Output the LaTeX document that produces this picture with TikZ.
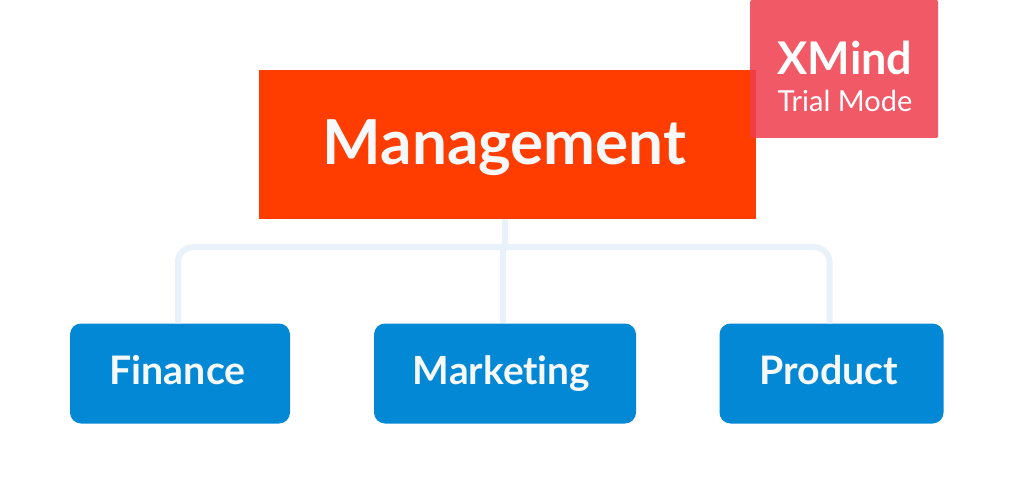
\documentclass[tikz,border=0pt]{standalone}
\usepackage{fontspec}
\usetikzlibrary{calc}
\setmainfont[Ligatures=NoCommon]{Lato}
\definecolor{mgmt}{HTML}{FF3D00}
\definecolor{sub}{HTML}{0288D4}
\definecolor{conn}{HTML}{E9F2FA}
\definecolor{wm}{HTML}{EF3D4C}
\definecolor{ink}{HTML}{F7F8FA}
\tikzset{
  x=1pt,y=-1pt,
  topic/.style={fill=sub,rounded corners=11pt,inner sep=0pt,minimum height=100pt},
  topictext/.style={anchor=base,inner sep=0pt,text=ink,font=\fontsize{39.3}{44}\selectfont\bfseries},
  link/.style={draw=conn,line width=6pt,rounded corners=15pt},
  straight/.style={draw=conn,line width=6pt},
  label/.style={anchor=base,inner sep=0pt,text=white}
}
\begin{document}
\begin{tikzpicture}
\useasboundingbox (0,0) rectangle (1009,489);
\fill[white] (0,0) rectangle (1009,489);
\node[fill=mgmt,inner sep=0pt,minimum width=497pt,minimum height=149pt] (m) at (507,144.5) {};
\node[topic,minimum width=220pt] (f) at (180,373.5) {};
\node[topic,minimum width=262pt] (k) at (505,373.5) {};
\node[topic,minimum width=224pt] (p) at (831.5,373.5) {};
\coordinate (fin) at ([xshift=-2pt]f.north);
\coordinate (mar) at ([xshift=-2pt]k.north);
\coordinate (pro) at ([xshift=-2pt]p.north);
\coordinate (top) at ([xshift=-2pt]m.south);
\coordinate (bar) at ($(top)+(0,28)$);
\draw[link] (fin) -- (fin |- bar) -- (pro |- bar) -- (pro);
\draw[straight] (top) -- (bar);
\draw[straight] (mar |- bar) -- (mar);
\node[label,text=ink,font=\fontsize{62}{68}\selectfont\bfseries] (mt) at (504.5,164.5) {Management};
\node[topictext] (ft) at (177.5,384.5) {Finance};
\node[topictext,font=\fontsize{38.8}{44}\selectfont\bfseries] (kt) at (501.5,384.5) {Marketing};
\node[topictext] (pt) at (829,384.5) {Product};
\node[fill=wm,fill opacity=.85,rounded corners=1.5pt,inner sep=0pt,minimum width=188pt,minimum height=138pt] (w) at (844,69) {};
\node[label,font=\fontsize{45}{50}\selectfont\bfseries] (x) at (845,75) {XMind};
\node[label,font=\fontsize{29}{32}\selectfont] (t) at (845,111.5) {Trial Mode};
\end{tikzpicture}
\end{document}
